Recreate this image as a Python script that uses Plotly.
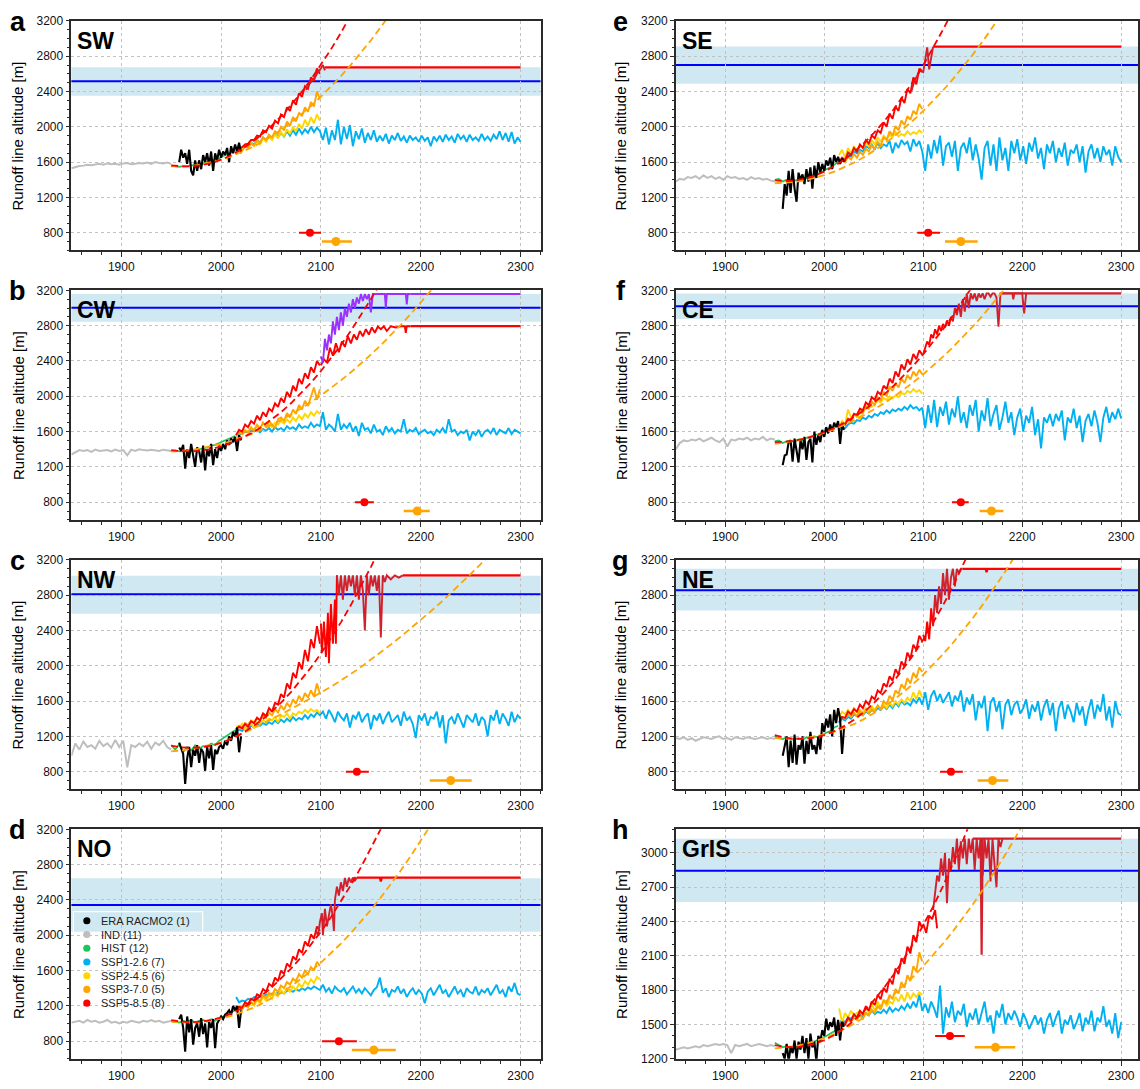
import plotly.graph_objects as go

W, H = 1140, 1089

# ---------------- shared year axes ----------------
IND_YEARS = list(range(1850, 1951, 4))
HIST_YEARS = list(range(1950, 2015, 4))
ERA_YEARS = list(range(1958, 2021, 2))
SSP126_YEARS = list(range(2015, 2301, 3))
SSP_YEARS = list(range(2015, 2100, 3))
FIT_YEARS = list(range(1950, 2301, 10))
END_YEAR = 2300
MARKER_LEVELS = [800, 700]
GRIS_MARKER_LEVELS = [1400, 1300]

LEGEND_LABELS = ["ERA RACMO2 (1)", "IND (11)", "HIST (12)", "SSP1-2.6 (7)",
                 "SSP2-4.5 (6)", "SSP3-7.0 (5)", "SSP5-8.5 (8)"]

# ---------------- SW ----------------
SW_IND = [1530,1545,1555,1560,1570,1565,1575,1580,1570,1585,1575,1580,1570,1585,1590,1575,1580,1590,1585,1595,1580,1600,1590,1585,1595,1580]
SW_HIST = [1560,1550,1545,1555,1550,1565,1560,1575,1580,1600,1610,1630,1640,1670,1690,1710,1730]
SW_ERA = [1600,1740,1650,1700,1580,1740,1500,1450,1620,1500,1620,1520,1680,1600,1700,1560,1720,1500,1700,1620,1740,1650,1720,1680,1760,1600,1780,1700,1800,1720,1820,1700]
SW_SSP126 = [1720,1760,1740,1790,1770,1820,1800,1850,1820,1880,1850,1900,
             1870,1920,1880,1930,1890,1950,1900,1960,1910,1980,1920,1970,
             1930,2000,1940,1990,1950,1850,1990,1800,1960,1850,2080,1800,
             2000,1860,2020,1780,1950,1860,1980,1820,1930,1850,1960,1830,
             1900,1840,1920,1810,1900,1850,1930,1840,1890,1820,1900,1850,
             1880,1830,1900,1840,1880,1780,1890,1840,1900,1830,1910,1850,
             1890,1820,1920,1860,1900,1830,1910,1850,1880,1840,1920,1850,
             1890,1840,1910,1860,1950,1850,1930,1830,1940,1810,1880,1830]
SW_SSP245 = [1720,1770,1730,1790,1760,1820,1780,1850,1800,1870,1830,1890,1850,1920,1870,1940,1890,1970,1920,2000,1950,2030,1980,2080,2010,2110,2040,2140,2070]
SW_SSP370 = [1720,1750,1730,1780,1760,1810,1790,1840,1820,1880,1850,1910,1880,1950,1920,2000,1960,2060,2010,2110,2060,2160,2120,2220,2170,2280,2230,2400,2310]
SW_SSP585 = [1740,1760,1770,1800,1810,1850,1850,1900,1890,1960,1940,2010,1980,2070,2040,2140,2110,2220,2180,2300,2250,2380,2340,2460,2430,2560,2520,2660,2600]
SW_EXT_RED_YEARS = []
SW_EXT_RED = []
SW_EXT_DARK_YEARS = [2085,2088,2091,2094,2097,2100,2102,2104]
SW_EXT_DARK = [2420,2480,2520,2560,2620,2660,2700,2640]
SW_MAX_YEARS = [2104, END_YEAR]
SW_MAX = [2674, 2674]
SW_FIT585 = [1564,1552,1552,1564,1589,1627,1678,1741,1817,1905,2006,2119,2246,2384,2536,2700,2877,3066,3268]
SW_FIT370 = [1551,1551,1558,1573,1596,1626,1664,1709,1762,1822,1889,1965,2047,2138,2235,2341,2453,2574,2702,2837,2980,3130,3288]
SW_THRESHOLD = 2517
SW_BAND = [2353, 2674]
SW_CROSS585 = [2089, 2078, 2100]
SW_CROSS370 = [2115, 2101, 2131]

# ---------------- CW ----------------
CW_IND = [1340,1370,1390,1380,1390,1370,1395,1380,1385,1390,1375,1395,1380,1390,1330,1395,1380,1400,1390,1385,1395,1390,1380,1395,1385,1380]
CW_HIST = [1380,1385,1375,1380,1385,1380,1390,1400,1410,1420,1440,1450,1470,1490,1510,1530,1550]
CW_ERA = [1420,1380,1450,1180,1400,1300,1460,1350,1200,1420,1380,1250,1440,1160,1400,1320,1460,1220,1400,1300,1440,1380,1460,1400,1500,1450,1520,1480,1540,1380,1560,1500]
CW_SSP126 = [1550,1580,1570,1600,1590,1610,1600,1620,1590,1630,1610,1640,
             1600,1650,1620,1640,1610,1660,1630,1650,1620,1680,1640,1660,
             1640,1700,1650,1680,1660,1820,1620,1680,1650,1600,1800,1620,
             1680,1640,1700,1600,1660,1550,1700,1620,1640,1580,1680,1600,
             1620,1560,1660,1600,1640,1580,1620,1600,1740,1580,1620,1600,
             1640,1570,1600,1620,1580,1600,1560,1620,1590,1640,1580,1740,
             1600,1620,1560,1600,1580,1620,1500,1600,1560,1620,1540,1600,
             1620,1580,1640,1560,1620,1600,1580,1640,1570,1620,1600,1580]
CW_SSP245 = [1550,1600,1580,1620,1600,1650,1620,1680,1640,1700,1660,1680,1650,1700,1680,1720,1690,1740,1700,1760,1720,1780,1740,1800,1760,1820,1780,1830,1800]
CW_SSP370 = [1560,1590,1570,1610,1590,1640,1610,1670,1630,1700,1650,1720,1680,1640,1740,1760,1720,1810,1760,1850,1800,1900,1850,1950,1890,2000,2100,1960,2080]
CW_SSP585 = [1560,1620,1600,1680,1650,1720,1690,1780,1730,1820,1770,1860,1830,1920,1880,1980,1930,2050,1990,2120,2060,2200,2140,2260,2200,2330,2270,2400,2350]
CW_EXT_RED_YEARS = [2100,2103,2106,2109,2112,2115,2118,2121,2124,2127,2130,2133,2136,2139,2142,2145,2148,2151,2154,2157,2160,2163,2166,2170,2175,2180,2184,2185,2186,2190]
CW_EXT_RED = [2350,2420,2380,2550,2460,2600,2500,2620,2560,2680,2600,2700,2640,2740,2680,2760,2700,2780,2720,2790,2760,2794,2740,2794,2780,2794,2794,2720,2794,2794]
CW_EXT_DARK_YEARS = []
CW_EXT_DARK = []
CW_PURPLE_YEARS = [2100,2102,2104,2106,2108,2110,2112,2114,2116,2118,2120,2122,2124,2126,2128,2130,2132,2134,2136,2138,2140,2142,2144,2146,2148,2150,2152,2155,2160,2164,2165,2166,2170,2185,2186,2187,2190]
CW_PURPLE = [2450,2380,2650,2520,2700,2600,2850,2700,2900,2750,2950,2800,3000,2900,3050,2950,3100,3000,3120,3050,3159,3080,3159,3100,3159,2950,3159,3159,3159,3159,3000,3159,3159,3159,3040,3159,3159]
CW_MAX_YEARS = [2190, END_YEAR]
CW_MAX = [2794, 2794]
CW_PURPLE_MAX_YEARS = [2190, END_YEAR]
CW_PURPLE_MAX = [3159, 3159]
CW_FIT585 = [1390,1378,1375,1384,1402,1431,1470,1520,1579,1649,1730,1820,1921,2033,2154,2286,2428,2581,2743,2916,3100,3293]
CW_FIT370 = [1372,1380,1392,1410,1432,1460,1492,1530,1572,1620,1672,1730,1792,1860,1932,2010,2092,2180,2272,2370,2472,2580,2692,2810,2932,3060,3192,3330]
CW_THRESHOLD = 3002
CW_BAND = [2846, 3159]
CW_CROSS585 = [2143.5, 2134, 2153]
CW_CROSS370 = [2196.5, 2183, 2209]

# ---------------- NW ----------------
NW_IND = [980,1120,1050,1140,1080,1100,1060,1150,1090,1120,1070,1160,1080,1150,850,1100,1080,1120,1090,1140,1060,1130,1100,1150,1080,1050]
NW_HIST = [1100,1050,1110,1020,1080,1040,1100,1060,1090,1080,1120,1100,1150,1180,1220,1250,1270]
NW_ERA = [1130,1050,1000,660,950,1080,850,1050,980,1100,900,1060,1020,810,1080,950,1100,820,1050,1000,1080,1100,1060,1150,1100,1200,1150,1250,1200,1300,1020,1200]
NW_SSP126 = [1250,1280,1260,1300,1290,1320,1300,1340,1320,1350,1330,1360,
             1340,1380,1350,1390,1360,1400,1370,1420,1380,1410,1390,1440,
             1400,1450,1420,1470,1440,1480,1400,1500,1440,1360,1480,1420,
             1380,1460,1300,1440,1400,1480,1360,1420,1460,1280,1440,1380,
             1460,1340,1420,1480,1360,1400,1440,1320,1480,1380,1420,1340,
             1180,1440,1380,1460,1320,1420,1400,1480,1300,1440,1120,1380,
             1420,1340,1460,1380,1300,1440,1400,1360,1460,1320,1420,1380,
             1200,1440,1380,1500,1340,1460,1400,1320,1480,1360,1440,1400]
NW_SSP245 = [1320,1300,1340,1280,1320,1340,1300,1360,1350,1380,1360,1400,1380,1420,1360,1440,1420,1460,1400,1460,1440,1480,1460,1500,1470,1510,1480,1500,1460]
NW_SSP370 = [1280,1320,1300,1350,1330,1380,1360,1410,1380,1440,1410,1470,1440,1510,1470,1550,1500,1580,1530,1620,1570,1660,1600,1690,1640,1720,1650,1800,1680]
NW_SSP585 = [1280,1310,1290,1340,1310,1370,1350,1410,1380,1460,1430,1520,1480,1580,1560,1680,1640,1800,1740,1920,1860,2040,1960,2180,2050,2300,2200,2450,2250]
NW_EXT_RED_YEARS = [2100,2101,2103,2105,2107,2108,2110,2112,2114,2115,2116]
NW_EXT_RED = [2480,2150,2500,2100,2600,2030,2700,2250,2750,2250,3025]
NW_EXT_DARK_YEARS = [2116,2118,2120,2122,2124,2126,2128,2130,2132,2134,2136,2138,2140,2142,2144,2146,2148,2150,2152,2154,2156,2158,2160,2162,2164,2166,2170,2174,2178,2182]
NW_EXT_DARK = [3025,2800,3025,2750,3025,2850,3025,2900,3025,2800,3025,2750,3025,2850,2400,3025,2800,3025,2900,3025,2850,3025,2320,3025,2950,3025,2980,3025,3000,3025]
NW_MAX_YEARS = [2182, END_YEAR]
NW_MAX = [3025, 3025]
NW_FIT585 = [1095,1076,1070,1076,1095,1127,1171,1228,1298,1380,1474,1582,1702,1835,1980,2138,2309,2492,2688,2896,3118,3352]
NW_FIT370 = [1030,1040,1060,1080,1100,1127,1175,1225,1280,1335,1390,1450,1510,1570,1633,1697,1762,1832,1907,1985,2067,2152,2240,2330,2423,2519,2617,2717,2822,2930,3040,3152,3267]
NW_THRESHOLD = 2812
NW_BAND = [2589, 3021]
NW_CROSS585 = [2136, 2125, 2148]
NW_CROSS370 = [2230, 2209, 2251]

# ---------------- NO ----------------
NO_IND = [1010,1020,1030,1010,1040,1020,1030,1010,1020,1040,1010,1020,1000,1020,1010,1030,1020,1010,1030,1020,1040,1020,1030,1010,1020,1030]
NO_HIST = [1030,1020,1010,1030,1020,1040,1010,1030,1040,1020,1050,1030,1060,1080,1100,1130,1150]
NO_ERA = [1050,1100,950,680,1080,900,1050,760,950,1000,850,1060,880,1000,730,1020,950,1050,720,1000,1040,1080,1050,1100,1120,1150,1100,1200,1150,1200,950,1150]
NO_SSP126 = [1300,1240,1260,1250,1280,1270,1300,1290,1310,1300,1330,1320,
             1340,1330,1350,1360,1340,1370,1380,1360,1390,1370,1400,1380,
             1410,1390,1420,1400,1380,1440,1360,1400,1340,1420,1380,1360,
             1400,1330,1380,1420,1350,1390,1340,1400,1360,1320,1380,1410,
             1520,1350,1400,1300,1380,1360,1420,1340,1390,1300,1360,1400,
             1330,1380,1340,1230,1360,1400,1320,1380,1440,1340,1380,1300,
             1360,1420,1340,1380,1300,1400,1360,1340,1420,1320,1380,1350,
             1400,1320,1380,1440,1340,1380,1300,1420,1360,1460,1340,1320]
NO_SSP245 = [1150,1200,1160,1220,1180,1240,1200,1270,1230,1300,1260,1320,1280,1350,1310,1380,1340,1400,1360,1420,1380,1450,1410,1480,1440,1500,1460,1530,1500]
NO_SSP370 = [1140,1180,1160,1210,1190,1240,1220,1280,1250,1320,1290,1350,1320,1390,1360,1430,1400,1470,1440,1510,1480,1560,1520,1600,1560,1640,1600,1700,1650]
NO_SSP585 = [1150,1190,1180,1240,1220,1280,1260,1330,1310,1390,1360,1450,1420,1520,1480,1600,1560,1680,1640,1760,1720,1840,1800,1930,1880,2010,1960,2100,2050]
NO_EXT_RED_YEARS = []
NO_EXT_RED = []
NO_EXT_DARK_YEARS = [2095,2097,2099,2101,2102,2104,2106,2108,2110,2112,2113,2114,2116,2118,2120,2122,2124,2126,2128,2130,2132,2134,2136]
NO_EXT_DARK = [2050,2000,2150,2250,2000,2300,2100,2250,2350,2200,2050,2400,2550,2450,2600,2500,2650,2550,2653,2600,2653,2620,2653]
NO_MAX_YEARS = [2136, 2159, 2160, 2161, END_YEAR]
NO_MAX = [2653, 2653, 2610, 2653, 2653]
NO_FIT585 = [1039,1021,1015,1021,1039,1070,1112,1167,1234,1312,1403,1507,1622,1749,1889,2041,2205,2381,2569,2769,2982,3206]
NO_FIT370 = [1018,1011,1011,1018,1033,1056,1086,1123,1168,1220,1279,1347,1421,1503,1593,1690,1794,1906,2025,2152,2287,2428,2578,2734,2898,3070,3249]
NO_THRESHOLD = 2344
NO_BAND = [2039, 2646]
NO_CROSS585 = [2118, 2101, 2136]
NO_CROSS370 = [2153, 2131, 2175]

# ---------------- SE ----------------
SE_IND = [1380,1410,1400,1430,1420,1440,1410,1450,1420,1440,1410,1430,1400,1440,1420,1430,1410,1420,1400,1430,1410,1420,1400,1410,1390,1380]
SE_HIST = [1400,1410,1380,1400,1370,1390,1400,1410,1420,1440,1450,1470,1490,1520,1540,1570,1600]
SE_ERA = [1070,1350,1220,1500,1250,1520,1300,1150,1480,1400,1460,1350,1520,1380,1540,1300,1560,1420,1600,1480,1580,1500,1620,1560,1650,1520,1680,1600,1660,1580,1640,1600]
SE_SSP126 = [1600,1640,1620,1680,1660,1720,1700,1740,1720,1780,1760,1800,
             1740,1820,1760,1800,1780,1840,1700,1820,1760,1850,1800,1830,
             1720,1860,1780,1840,1720,1500,1800,1640,1850,1700,1900,1560,
             1780,1820,1660,1840,1500,1760,1820,1700,1880,1620,1800,1640,
             1400,1760,1840,1560,1800,1500,1880,1620,1760,1500,1840,1700,
             1860,1620,1780,1580,1820,1720,1880,1640,1760,1520,1800,1700,
             1840,1600,1760,1660,1820,1560,1740,1700,1800,1600,1780,1480,
             1720,1800,1640,1760,1600,1780,1680,1740,1560,1780,1660,1600]
SE_SSP245 = [1680,1740,1650,1760,1700,1780,1730,1800,1760,1820,1780,1850,1800,1880,1830,1900,1860,1910,1880,1940,1890,1920,1900,1950,1910,1940,1920,1960,1930]
SE_SSP370 = [1600,1640,1600,1660,1630,1690,1650,1720,1680,1750,1720,1790,1750,1830,1790,1880,1850,1950,1900,2010,1960,2070,2020,2120,2080,2180,2140,2260,2200]
SE_SSP585 = [1600,1650,1620,1710,1680,1760,1720,1800,1760,1850,1810,1900,1870,1960,1930,2050,2000,2150,2090,2230,2180,2330,2270,2430,2380,2560,2480,2660,2620]
SE_EXT_RED_YEARS = []
SE_EXT_RED = []
SE_EXT_DARK_YEARS = [2088,2091,2094,2097,2100,2102,2104,2106,2108,2110]
SE_EXT_DARK = [2400,2520,2580,2640,2620,2760,2900,2650,2780,2909]
SE_MAX_YEARS = [2110, END_YEAR]
SE_MAX = [2909, 2909]
SE_FIT585 = [1392,1385,1392,1412,1445,1492,1553,1626,1713,1814,1928,2055,2196,2350,2517,2698,2892,3100,3321]
SE_FIT370 = [1360,1364,1375,1393,1418,1451,1491,1539,1593,1655,1724,1801,1885,1976,2074,2180,2293,2413,2541,2675,2818,2967,3124,3288]
SE_THRESHOLD = 2700
SE_BAND = [2487, 2909]
SE_CROSS585 = [2105, 2094, 2117]
SE_CROSS370 = [2138, 2122, 2155]

# ---------------- CE ----------------
CE_IND = [1400,1470,1500,1490,1510,1500,1520,1490,1510,1530,1500,1480,1520,1430,1510,1500,1520,1510,1530,1500,1520,1510,1540,1500,1520,1510]
CE_HIST = [1490,1500,1470,1490,1500,1480,1510,1500,1530,1540,1560,1570,1590,1610,1640,1660,1690]
CE_ERA = [1220,1330,1340,1480,1500,1260,1520,1380,1250,1500,1400,1540,1280,1480,1520,1250,1600,1450,1560,1480,1620,1540,1650,1580,1680,1600,1700,1650,1720,1460,1680,1620]
CE_SSP126 = [1620,1650,1640,1680,1700,1690,1730,1720,1760,1740,1780,1760,
             1800,1780,1820,1800,1840,1810,1850,1830,1860,1840,1880,1850,
             1900,1860,1880,1840,1870,1640,1900,1700,1960,1650,1880,1780,
             1940,1680,1860,1760,2000,1700,1820,1640,1900,1780,1960,1600,
             1840,1720,1980,1660,1800,1900,1620,1760,1940,1700,1820,1560,
             1760,1860,1600,1780,1700,1880,1560,1740,1410,1760,1700,1800,
             1660,1800,1720,1840,1500,1760,1700,1860,1640,1780,1480,1720,
             1800,1660,1840,1700,1480,1760,1880,1700,1820,1740,1860,1750]
CE_SSP245 = [1650,1720,1680,1850,1760,1780,1800,1740,1830,1860,1900,1880,1920,1950,1930,1980,1960,2000,1980,2010,1990,2040,2020,2060,2040,2080,2050,2070,2030]
CE_SSP370 = [1650,1700,1680,1750,1720,1800,1770,1840,1810,1890,1860,1940,1900,1990,1950,2050,2000,2110,2060,2150,2100,2200,2150,2240,2190,2280,2230,2300,2250]
CE_SSP585 = [1640,1690,1680,1740,1730,1800,1790,1860,1840,1930,1900,1990,1960,2050,2020,2120,2080,2200,2150,2280,2220,2360,2300,2420,2360,2480,2420,2520,2470]
CE_EXT_RED_YEARS = [2100,2102,2104,2106,2108,2110,2112,2114,2116,2118,2120,2122,2124,2126,2128,2130]
CE_EXT_RED = [2480,2560,2620,2580,2700,2660,2760,2700,2800,2740,2820,2780,2860,2800,2900,2850]
CE_EXT_DARK_YEARS = [2130,2132,2134,2136,2138,2140,2142,2144,2146,2148,2150,2152,2154,2156,2158,2160,2162,2164,2166,2168,2170,2172,2174,2176,2178,2190,2191,2192,2200,2202,2204]
CE_EXT_DARK = [2850,3000,2920,3050,2900,3100,2960,3166,3000,3166,3100,3166,3080,3166,3120,3166,3100,3166,3166,3130,3166,3166,3120,2790,3166,3166,3100,3166,3166,2940,3166]
CE_MAX_YEARS = [2178, END_YEAR]
CE_MAX = [3166, 3166]
CE_FIT585 = [1480,1484,1498,1520,1551,1591,1639,1697,1763,1839,1923,2016,2117,2228,2348,2476,2613,2759,2914,3077,3250]
CE_FIT370 = [1461,1475,1494,1519,1550,1586,1627,1674,1727,1785,1849,1918,1993,2073,2159,2250,2347,2449,2557,2671,2790,2914,3044,3180,3321]
CE_THRESHOLD = 3021
CE_BAND = [2876, 3166]
CE_CROSS585 = [2138, 2129, 2146]
CE_CROSS370 = [2169, 2157, 2181]

# ---------------- NE ----------------
NE_IND = [1180,1170,1190,1160,1180,1150,1170,1190,1180,1170,1190,1200,1170,1180,1160,1190,1180,1170,1190,1180,1170,1180,1190,1170,1180,1170]
NE_HIST = [1200,1180,1170,1190,1160,1170,1180,1160,1190,1180,1200,1190,1220,1240,1260,1300,1320]
NE_ERA = [980,1100,1200,850,1150,900,1220,880,1100,1050,1200,890,1150,1000,1250,1050,1100,1000,1200,1050,1350,1250,1400,1300,1450,1200,1500,1350,1520,1400,1000,1300]
NE_SSP126 = [1350,1400,1380,1420,1400,1450,1430,1460,1440,1480,1460,1500,
             1480,1520,1500,1540,1510,1560,1520,1580,1540,1600,1560,1580,
             1550,1620,1580,1640,1560,1700,1500,1660,1720,1600,1680,1580,
             1640,1700,1540,1660,1600,1720,1480,1640,1560,1680,1380,1600,
             1520,1660,1260,1580,1640,1480,1600,1280,1560,1620,1440,1560,
             1600,1460,1520,1620,1400,1560,1480,1600,1380,1540,1620,1440,
             1580,1260,1520,1600,1400,1560,1480,1360,1580,1440,1540,1320,
             1500,1620,1400,1560,1480,1680,1380,1540,1300,1600,1460,1440]
NE_SSP245 = [1420,1480,1450,1500,1460,1520,1480,1500,1470,1520,1490,1540,1500,1550,1510,1560,1520,1580,1540,1600,1560,1620,1580,1640,1600,1700,1620,1720,1640]
NE_SSP370 = [1380,1420,1400,1450,1420,1470,1430,1490,1440,1500,1460,1510,1480,1550,1510,1600,1560,1660,1610,1720,1680,1790,1740,1860,1800,1920,1860,1980,1930]
NE_SSP585 = [1360,1420,1410,1480,1450,1510,1480,1560,1520,1600,1560,1650,1620,1720,1690,1800,1760,1880,1830,1960,1900,2050,1990,2150,2080,2240,2180,2340,2280]
NE_EXT_RED_YEARS = [2100,2102,2104,2106,2108,2110]
NE_EXT_RED = [2350,2280,2500,2300,2650,2450]
NE_EXT_DARK_YEARS = [2110,2112,2114,2116,2118,2120,2122,2124,2126,2128,2130,2132,2134,2136,2138,2140]
NE_EXT_DARK = [2450,2800,2600,2900,2700,3050,2800,3099,2750,3000,3099,2900,3099,3050,3099,3099]
NE_MAX_YEARS = [2140, 2163, 2164, 2165, END_YEAR]
NE_MAX = [3099, 3099, 3060, 3099, 3099]
NE_FIT585 = [1215,1186,1172,1172,1186,1215,1258,1316,1388,1474,1575,1691,1820,1965,2123,2296,2483,2685,2901,3132,3377]
NE_FIT370 = [1179,1171,1171,1179,1195,1219,1251,1291,1339,1395,1459,1531,1611,1699,1795,1899,2011,2131,2259,2395,2539,2691,2851,3019,3195,3379]
NE_THRESHOLD = 2857
NE_BAND = [2626, 3099]
NE_CROSS585 = [2128, 2117, 2140]
NE_CROSS370 = [2170, 2155, 2186]

# ---------------- GrIS ----------------
GRIS_IND = [1280,1290,1300,1290,1300,1310,1300,1320,1310,1320,1330,1320,1330,1320,1250,1320,1310,1320,1330,1310,1320,1330,1320,1310,1320,1310]
GRIS_HIST = [1340,1320,1300,1310,1290,1300,1310,1320,1330,1340,1350,1370,1380,1400,1420,1440,1460]
GRIS_ERA = [1250,1200,1330,1180,1300,1250,1360,1200,1350,1280,1400,1250,1380,1200,1420,1300,1350,1180,1400,1350,1450,1400,1550,1450,1520,1480,1560,1400,1540,1360,1520,1480]
GRIS_SSP126 = [1500,1540,1520,1560,1550,1580,1560,1600,1570,1600,1580,1620,
               1590,1610,1600,1630,1600,1650,1610,1640,1620,1660,1630,1680,
               1640,1700,1650,1760,1620,1680,1600,1700,1640,1560,1840,1420,
               1650,1560,1700,1520,1620,1580,1680,1480,1600,1540,1640,1500,
               1600,1700,1520,1580,1420,1620,1560,1680,1500,1600,1540,1620,
               1560,1480,1600,1540,1460,1520,1580,1500,1560,1420,1540,1600,
               1480,1560,1620,1420,1540,1500,1580,1460,1520,1600,1440,1560,
               1500,1620,1440,1560,1520,1660,1480,1540,1420,1600,1380,1520]
GRIS_SSP245 = [1640,1520,1600,1560,1620,1580,1600,1620,1580,1650,1600,1680,1620,1700,1640,1720,1660,1700,1680,1740,1700,1760,1700,1780,1720,1770,1740,1780,1760]
GRIS_SSP370 = [1480,1520,1500,1540,1520,1560,1540,1580,1550,1600,1580,1630,1600,1660,1630,1710,1680,1760,1720,1810,1770,1870,1820,1930,1880,2010,1960,2130,2050]
GRIS_SSP585 = [1480,1520,1500,1560,1530,1590,1560,1620,1590,1660,1620,1700,1670,1760,1720,1820,1780,1900,1850,1990,1940,2080,2030,2180,2120,2280,2220,2400,2340]
GRIS_EXT_RED_YEARS = [2100,2103,2106,2109,2112,2114]
GRIS_EXT_RED = [2380,2300,2450,2420,2500,2340]
GRIS_EXT_DARK_YEARS = list(range(2110, 2181, 2))
GRIS_EXT_DARK = [2500,2650,2800,2750,2950,2800,3000,2560,2950,2850,3050,2900,3123,2850,3100,2950,3123,2900,3123,3000,3123,2850,3123,2950,3123,2800,3123,2950,3123,2750,3123,2900,2700,3123,3050,3123]
GRIS_MAX_YEARS = [2150, 2158, 2159, 2160, 2180, END_YEAR]
GRIS_MAX = [3123, 3123, 2110, 3123, 3123, 3123]
GRIS_FIT585 = [1320,1304,1300,1309,1330,1362,1408,1465,1534,1616,1710,1816,1935,2065,2208,2363,2530,2709,2901,3105,3321]
GRIS_FIT370 = [1291,1297,1309,1327,1351,1381,1416,1458,1506,1560,1620,1686,1758,1835,1919,2009,2105,2207,2314,2428,2548,2674,2805,2943,3087,3236]
GRIS_THRESHOLD = 2842
GRIS_BAND = [2569, 3123]
GRIS_CROSS585 = [2127, 2112, 2142]
GRIS_CROSS370 = [2173, 2152, 2193]

# ---------------- styles ----------------
C_ERA = "#000000"
C_IND = "#BEBEBE"
C_HIST = "#1DC45A"
C_126 = "#00B0F0"
C_245 = "#FFD700"
C_370 = "#FFA500"
C_585 = "#FF0000"
C_DARK = "#D2202C"
C_PURPLE = "#9B30FF"
C_THR = "#0000FF"
C_BAND = "#CFE8F1"
LEGEND_COLORS = [C_ERA, C_IND, C_HIST, C_126, C_245, C_370, C_585]
FONT = "Liberation Sans, Arial, Helvetica, sans-serif"
AX_COLOR = "#2a2a2a"
GRID_COLOR = "#C2C2C2"

ROWS_PX = [(14, 246.5), (287, 519.5), (560, 792.5), (833, 1065.5)]
COLS_PX = [(71.5, 541.5), (677, 1140)]
X_RANGES = [[1850, 2320], [1850, 2317]]


def P(letter, name, row, col, ind, hist, era, s126, s245, s370, s585,
      ext_red, ext_dark, max_lines, fit585, fit370, thr, band, c585, c370,
      levels, yrange, ydtick, purple=None):
    return dict(letter=letter, name=name, row=row, col=col, ind=ind, hist=hist,
                era=era, s126=s126, s245=s245, s370=s370, s585=s585,
                ext_red=ext_red, ext_dark=ext_dark, max_lines=max_lines,
                fit585=fit585, fit370=fit370, thr=thr, band=band, c585=c585,
                c370=c370, levels=levels, yrange=yrange, ydtick=ydtick, purple=purple)


PANELS = [
    P("a", "SW", 0, 0, SW_IND, SW_HIST, SW_ERA, SW_SSP126, SW_SSP245, SW_SSP370, SW_SSP585,
      (SW_EXT_RED_YEARS, SW_EXT_RED), (SW_EXT_DARK_YEARS, SW_EXT_DARK),
      [(SW_MAX_YEARS, SW_MAX, C_585)], SW_FIT585, SW_FIT370, SW_THRESHOLD, SW_BAND,
      SW_CROSS585, SW_CROSS370, MARKER_LEVELS, [600, 3201], 400),
    P("b", "CW", 1, 0, CW_IND, CW_HIST, CW_ERA, CW_SSP126, CW_SSP245, CW_SSP370, CW_SSP585,
      (CW_EXT_RED_YEARS, CW_EXT_RED), (CW_EXT_DARK_YEARS, CW_EXT_DARK),
      [(CW_MAX_YEARS, CW_MAX, C_585), (CW_PURPLE_MAX_YEARS, CW_PURPLE_MAX, C_PURPLE)],
      CW_FIT585, CW_FIT370, CW_THRESHOLD, CW_BAND, CW_CROSS585, CW_CROSS370,
      MARKER_LEVELS, [600, 3201], 400, purple=(CW_PURPLE_YEARS, CW_PURPLE)),
    P("c", "NW", 2, 0, NW_IND, NW_HIST, NW_ERA, NW_SSP126, NW_SSP245, NW_SSP370, NW_SSP585,
      (NW_EXT_RED_YEARS, NW_EXT_RED), (NW_EXT_DARK_YEARS, NW_EXT_DARK),
      [(NW_MAX_YEARS, NW_MAX, C_585)], NW_FIT585, NW_FIT370, NW_THRESHOLD, NW_BAND,
      NW_CROSS585, NW_CROSS370, MARKER_LEVELS, [600, 3201], 400),
    P("d", "NO", 3, 0, NO_IND, NO_HIST, NO_ERA, NO_SSP126, NO_SSP245, NO_SSP370, NO_SSP585,
      (NO_EXT_RED_YEARS, NO_EXT_RED), (NO_EXT_DARK_YEARS, NO_EXT_DARK),
      [(NO_MAX_YEARS, NO_MAX, C_585)], NO_FIT585, NO_FIT370, NO_THRESHOLD, NO_BAND,
      NO_CROSS585, NO_CROSS370, MARKER_LEVELS, [600, 3201], 400),
    P("e", "SE", 0, 1, SE_IND, SE_HIST, SE_ERA, SE_SSP126, SE_SSP245, SE_SSP370, SE_SSP585,
      (SE_EXT_RED_YEARS, SE_EXT_RED), (SE_EXT_DARK_YEARS, SE_EXT_DARK),
      [(SE_MAX_YEARS, SE_MAX, C_585)], SE_FIT585, SE_FIT370, SE_THRESHOLD, SE_BAND,
      SE_CROSS585, SE_CROSS370, MARKER_LEVELS, [600, 3201], 400),
    P("f", "CE", 1, 1, CE_IND, CE_HIST, CE_ERA, CE_SSP126, CE_SSP245, CE_SSP370, CE_SSP585,
      (CE_EXT_RED_YEARS, CE_EXT_RED), (CE_EXT_DARK_YEARS, CE_EXT_DARK),
      [(CE_MAX_YEARS, CE_MAX, C_DARK)], CE_FIT585, CE_FIT370, CE_THRESHOLD, CE_BAND,
      CE_CROSS585, CE_CROSS370, MARKER_LEVELS, [600, 3201], 400),
    P("g", "NE", 2, 1, NE_IND, NE_HIST, NE_ERA, NE_SSP126, NE_SSP245, NE_SSP370, NE_SSP585,
      (NE_EXT_RED_YEARS, NE_EXT_RED), (NE_EXT_DARK_YEARS, NE_EXT_DARK),
      [(NE_MAX_YEARS, NE_MAX, C_585)], NE_FIT585, NE_FIT370, NE_THRESHOLD, NE_BAND,
      NE_CROSS585, NE_CROSS370, MARKER_LEVELS, [600, 3201], 400),
    P("h", "GrIS", 3, 1, GRIS_IND, GRIS_HIST, GRIS_ERA, GRIS_SSP126, GRIS_SSP245, GRIS_SSP370,
      GRIS_SSP585, (GRIS_EXT_RED_YEARS, GRIS_EXT_RED), (GRIS_EXT_DARK_YEARS, GRIS_EXT_DARK),
      [(GRIS_MAX_YEARS, GRIS_MAX, C_DARK)], GRIS_FIT585, GRIS_FIT370, GRIS_THRESHOLD,
      GRIS_BAND, GRIS_CROSS585, GRIS_CROSS370, GRIS_MARKER_LEVELS, [1200, 3205], 300),
]

fig = go.Figure()
shapes = []
annotations = []
layout_axes = {}


def px_x(x):
    return x / W


def px_y(y):
    return 1 - y / H


for i, p in enumerate(PANELS):
    n = i + 1
    sfx = "" if n == 1 else str(n)
    xa, ya = "x" + sfx, "y" + sfx

    def add_line(x, y, color, width, dash=None):
        if len(x) == 0:
            return
        fig.add_trace(go.Scatter(x=x, y=y, mode="lines", xaxis=xa, yaxis=ya,
                                 line=dict(color=color, width=width, dash=dash),
                                 showlegend=False, hoverinfo="skip"))

    add_line(IND_YEARS[:len(p["ind"])], p["ind"], C_IND, 2.0)
    add_line(HIST_YEARS[:len(p["hist"])], p["hist"], C_HIST, 1.7)
    add_line(SSP126_YEARS[:len(p["s126"])], p["s126"], C_126, 1.9)
    add_line(SSP_YEARS[:len(p["s245"])], p["s245"], C_245, 1.9)
    add_line(SSP_YEARS[:len(p["s370"])], p["s370"], C_370, 1.9)
    add_line(SSP_YEARS[:len(p["s585"])], p["s585"], C_585, 1.9)
    for (mx, my, mc) in p["max_lines"]:
        add_line(mx, my, mc, 2.2)
    add_line(p["ext_red"][0], p["ext_red"][1], C_585, 1.9)
    add_line(p["ext_dark"][0], p["ext_dark"][1], C_DARK, 1.9)
    if p["purple"] is not None:
        add_line(p["purple"][0], p["purple"][1], C_PURPLE, 1.9)
    add_line(ERA_YEARS[:len(p["era"])], p["era"], C_ERA, 2.1)
    add_line(FIT_YEARS[:len(p["fit370"])], p["fit370"], C_370, 1.8, dash="7px,4px")
    add_line(FIT_YEARS[:len(p["fit585"])], p["fit585"], C_585, 1.8, dash="7px,4px")

    # crossing-year markers with ranges
    for cross, level, color, size, thick in ((p["c585"], p["levels"][0], C_585, 8, 2),
                                             (p["c370"], p["levels"][1], C_370, 9, 2.5)):
        fig.add_trace(go.Scatter(
            x=[cross[0]], y=[level], mode="markers", xaxis=xa, yaxis=ya,
            marker=dict(color=color, size=size),
            error_x=dict(type="data", symmetric=False, array=[cross[2] - cross[0]],
                         arrayminus=[cross[0] - cross[1]], color=color,
                         thickness=thick, width=0),
            showlegend=False, hoverinfo="skip"))

    r0, r1 = ROWS_PX[p["row"]]
    c0, c1 = COLS_PX[p["col"]]
    tickfont = dict(size=12, family=FONT, color="#111111")
    layout_axes["xaxis" + sfx] = dict(
        domain=[px_x(c0), px_x(c1)], range=X_RANGES[p["col"]], anchor=ya,
        tickmode="linear", tick0=1900, dtick=100, ticks="outside", ticklen=5,
        tickwidth=1.2, tickcolor=AX_COLOR, showline=True, linecolor=AX_COLOR,
        linewidth=1.5, mirror=True, showgrid=True, gridcolor=GRID_COLOR,
        gridwidth=0.8, griddash="3px,3px", zeroline=False, tickfont=tickfont,
        minor=dict(dtick=20, tick0=1900, ticks="outside", ticklen=3, tickwidth=1,
                   tickcolor=AX_COLOR, showgrid=False),
        fixedrange=True)
    layout_axes["yaxis" + sfx] = dict(
        domain=[px_y(r1), px_y(r0)], range=p["yrange"], anchor=xa,
        tickmode="linear", tick0=p["yrange"][0] if p["ydtick"] == 300 else 0,
        dtick=p["ydtick"], ticks="outside", ticklen=4, tickwidth=1.2,
        tickcolor=AX_COLOR, showline=True, linecolor=AX_COLOR, linewidth=1.5,
        mirror=True, showgrid=True, gridcolor=GRID_COLOR, gridwidth=0.8,
        griddash="3px,3px", zeroline=False, tickfont=tickfont,
        minor=dict(dtick=100, tick0=0, ticks="outside", ticklen=2.5, tickwidth=1,
                   tickcolor=AX_COLOR, showgrid=False),
        fixedrange=True)

    # uncertainty band and threshold line (both beneath the data)
    shapes.append(dict(type="rect", xref=xa + " domain", yref=ya, x0=0, x1=1,
                       y0=p["band"][0], y1=p["band"][1], fillcolor=C_BAND,
                       line=dict(width=0), layer="below"))
    shapes.append(dict(type="line", xref=xa + " domain", yref=ya, x0=0, x1=1,
                       y0=p["thr"], y1=p["thr"], line=dict(color=C_THR, width=2),
                       layer="below"))

    # labels
    letter_x = 18 if p["col"] == 0 else 622
    annotations.append(dict(xref="paper", yref="paper", x=px_x(letter_x),
                            y=px_y(r0 + 1), text="<b>%s</b>" % p["letter"],
                            showarrow=False, xanchor="center", yanchor="middle",
                            font=dict(size=27, family=FONT, color="#000000")))
    annotations.append(dict(xref="paper", yref="paper", x=px_x(c0 + 4),
                            y=px_y(r0 + 20), text="<b>%s</b>" % p["name"],
                            showarrow=False, xanchor="left", yanchor="middle",
                            font=dict(size=23, family=FONT, color="#000000")))
    annotations.append(dict(xref="paper", yref="paper", x=px_x(letter_x),
                            y=px_y((r0 + r1) / 2), text="Runoff line altitude [m]",
                            textangle=-90, showarrow=False, xanchor="center",
                            yanchor="middle",
                            font=dict(size=15, family=FONT, color="#000000")))

# ---------------- hand-placed legend in panel d ----------------
LEG_X, LEG_Y0, LEG_DY = 87, 925.7, 13.9
shapes.append(dict(type="rect", xref="paper", yref="paper", x0=px_x(73.5), x1=px_x(203),
                   y0=px_y(1020), y1=px_y(916.5), line=dict(color="#FFFFFF", width=1.3),
                   fillcolor="rgba(0,0,0,0)", layer="below"))
for k, (lab, col) in enumerate(zip(LEGEND_LABELS, LEGEND_COLORS)):
    yy = LEG_Y0 + k * LEG_DY
    shapes.append(dict(type="circle", xref="paper", yref="paper",
                       x0=px_x(LEG_X - 3.6), x1=px_x(LEG_X + 3.6),
                       y0=px_y(yy + 3.6), y1=px_y(yy - 3.6),
                       fillcolor=col, line=dict(width=0), layer="above"))
    annotations.append(dict(xref="paper", yref="paper", x=px_x(99), y=px_y(yy),
                            text=lab, showarrow=False, xanchor="left", yanchor="middle",
                            font=dict(size=11, family=FONT, color="#222222")))

fig.update_layout(width=W, height=H, margin=dict(l=0, r=0, t=0, b=0),
                  paper_bgcolor="white", plot_bgcolor="white", showlegend=False,
                  shapes=shapes, annotations=annotations, **layout_axes)

fig.write_html("out.html",
               config={"displayModeBar": False},
               post_script="document.body.style.margin='0';"
                           "document.body.style.overflow='hidden';")
